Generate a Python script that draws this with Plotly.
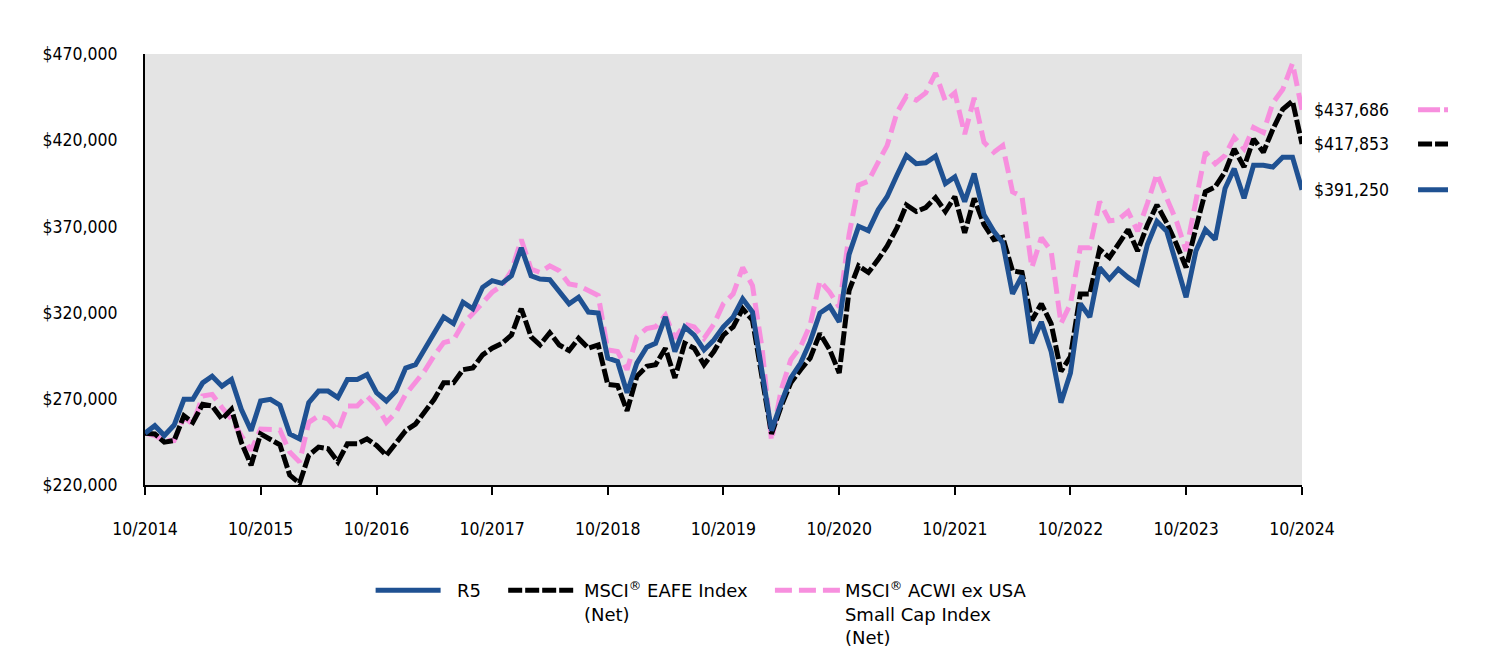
import pandas as pd
import plotly.graph_objects as go

months = pd.date_range("2014-10-01", periods=121, freq="MS")

r5 = [250000, 254405, 248670, 254788, 269696, 269696, 279252, 283075, 277341, 281164,
      263962, 251538, 268740, 269696, 266256, 249627, 246760, 267785, 274474, 274474,
      270652, 281164, 281164, 284031, 273519, 268740, 274474, 287853, 289764, 298365,
      307922, 317478, 313656, 326079, 322257, 334680, 338503, 336974, 341370, 357616,
      341370, 339459, 339077, 331814, 325124, 328947, 320345, 319772, 293588, 291676,
      273519, 290720, 299895, 302188, 317478, 297409, 311744, 306966, 298365, 304099,
      311744, 317478, 327990, 320345, 286898, 251538, 267785, 282120, 290720, 303143,
      319772, 323594, 314611, 353793, 370039, 367555, 379596, 387241, 399664, 411132,
      406354, 406927, 410750, 394887, 398709, 384375, 400620, 376729, 367172, 360482,
      330857, 341370, 302188, 314611, 297410, 267784, 284986, 325123, 317478, 346148,
      339458, 345193, 340414, 336591, 359527, 372906, 367172, 348059, 328946, 355704,
      368128, 362394, 392019, 403487, 386285, 405398, 405398, 404442, 410176, 410176,
      391250]

eafe = [250000, 249627, 244849, 245805, 260140, 256317, 266829, 265873, 258229, 263962,
        244849, 231470, 249627, 246760, 243320, 225736, 220958, 237204, 241982, 241026,
        233381, 243893, 243893, 246760, 242938, 237204, 244849, 251538, 255361, 262500,
        269696, 279252, 279252, 286898, 287853, 295498, 299321, 302188, 306966, 322257,
        306010, 301232, 308304, 301232, 297983, 305055, 299321, 301232, 278297, 277723,
        263006, 283075, 288809, 289764, 299321, 282120, 302188, 299321, 289764, 297409,
        306966, 311744, 322257, 315567, 283075, 249627, 265873, 279252, 286898, 293588,
        307922, 298365, 284986, 332769, 347104, 343281, 350926, 358571, 369083, 382462,
        378640, 380933, 386667, 378640, 387241, 366216, 386285, 370995, 362394, 363732,
        344236, 343281, 315567, 325123, 313656, 285942, 294543, 330857, 330857, 356660,
        351882, 359909, 368128, 355704, 370995, 382462, 371951, 359527, 346148, 369083,
        390108, 392975, 401575, 414955, 404442, 420688, 413043, 426422, 437890, 442668,
        417853]

acwi = [250000, 248670, 245805, 245805, 259185, 255361, 271607, 272563, 264918, 258229,
        248667, 240070, 252494, 252494, 251920, 239115, 233381, 256317, 260140, 258229,
        251538, 265873, 265873, 271607, 265873, 256317, 262051, 272563, 280208, 285942,
        295000, 302570, 304099, 313656, 319390, 326079, 331814, 335636, 344237, 362394,
        345193, 343281, 347104, 344237, 336592, 335636, 332769, 329902, 298365, 297409,
        286898, 306010, 310789, 311744, 318434, 305055, 313274, 311744, 305055, 313274,
        325124, 330858, 346148, 335636, 298365, 245805, 275430, 292632, 300277, 312700,
        338503, 331814, 323212, 365261, 393931, 396225, 407310, 416867, 435980, 445537,
        443243, 447448, 458916, 442670, 447448, 423555, 444581, 418777, 413043, 416867,
        390108, 387241, 346148, 363350, 355704, 313656, 325123, 357616, 357616, 384374,
        373288, 373862, 378640, 367172, 383418, 400620, 386285, 372906, 355704, 384374,
        413043, 406354, 411132, 421644, 414955, 427378, 424511, 441713, 449358, 464648,
        437686]

NB = "\u00a0"
names = [NB * 2 + "R5" + NB * 3,
         NB + "MSCI<sup>®</sup> EAFE Index" + NB * 3 + "<br>" + NB + "(Net)",
         "MSCI<sup>®</sup> ACWI ex USA<br>Small Cap Index<br>(Net)"]
end_labels = ["$391,250", "$417,853", "$437,686"]
y_ticks = [220000, 270000, 320000, 370000, 420000, 470000]
x_ticks = pd.date_range("2014-10-01", periods=11, freq="12MS")

BLUE = "#1f5192"
BLACK = "#000000"
PINK = "#f78fde"
FONT_C = "DejaVu Sans Condensed, DejaVu Sans, sans-serif"
FONT = "DejaVu Sans, sans-serif"

fig = go.Figure()
fig.add_trace(go.Scatter(x=months, y=acwi, mode="lines", name=names[2], legendrank=3,
                         line=dict(color=PINK, width=5, dash="17px,7px")))
fig.add_trace(go.Scatter(x=months, y=eafe, mode="lines", name=names[1], legendrank=2,
                         line=dict(color=BLACK, width=5, dash="14px,3px")))
fig.add_trace(go.Scatter(x=months, y=r5, mode="lines", name=names[0], legendrank=1,
                         line=dict(color=BLUE, width=5)))

series_end = [(r5[-1], end_labels[0], BLUE, "solid"),
              (eafe[-1], end_labels[1], BLACK, "14px,3px"),
              (acwi[-1], end_labels[2], PINK, "22px,4px")]
for val, txt, col, dsh in series_end:
    fig.add_annotation(x=1, xref="paper", y=val, yref="y", text=txt, showarrow=False,
                       xanchor="left", xshift=10, font=dict(family=FONT_C, size=17.5, color="#000"))
    fig.add_shape(type="line", xref="paper", yref="y", x0=1.1003, x1=1.1262, y0=val, y1=val,
                  line=dict(color=col, width=5, dash=dsh))

fig.update_layout(
    width=1488, height=660,
    margin=dict(l=137, r=194, t=46, b=178),
    paper_bgcolor="white", plot_bgcolor="#e4e4e4",
    font=dict(family=FONT_C, size=17.5, color="#000"),
    showlegend=True,
    legend=dict(orientation="h", x=0.195, xanchor="left", y=-0.2018, yanchor="top",
                valign="top", font=dict(family=FONT, size=18, color="#000"),
                itemwidth=65, traceorder="normal"),
)
fig.update_xaxes(type="date", range=[months[0], months[-1]], tickvals=x_ticks,
                 ticktext=[d.strftime("%m/%Y") for d in x_ticks],
                 showgrid=False, zeroline=False, showline=True, linecolor="#000", linewidth=2,
                 ticks="outside", ticklen=8, tickwidth=2, tickcolor="#000",
                 ticklabelstandoff=19)
fig.update_yaxes(range=[220000, 470000], tickvals=y_ticks,
                 ticktext=[f"${v:,}" for v in y_ticks],
                 showgrid=False, zeroline=False, showline=True, linecolor="#000", linewidth=2,
                 ticks="", ticklabelstandoff=22)

fig.write_html("out.html")
